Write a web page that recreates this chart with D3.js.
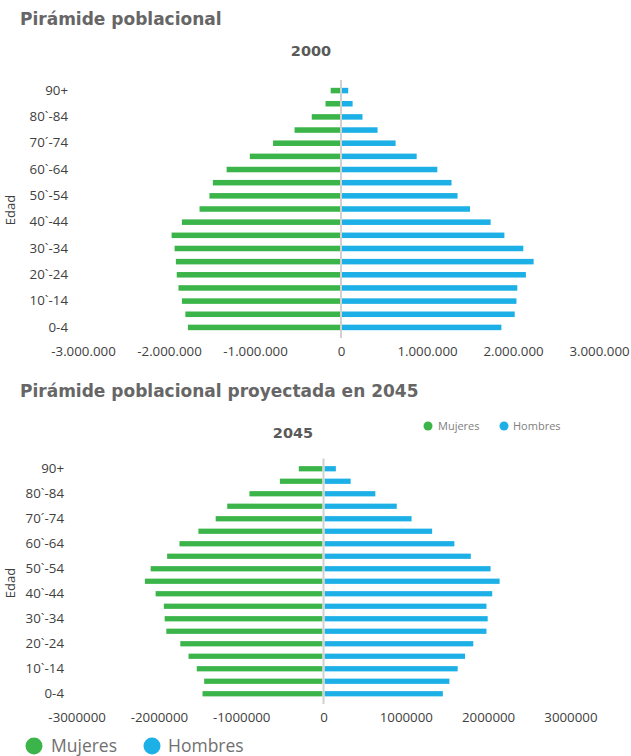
<!DOCTYPE html>
<html><head><meta charset="utf-8">
<script src="https://cdn.jsdelivr.net/npm/d3@7"></script>
<style>
body{margin:0;background:#fff;}
svg{display:block;}
</style></head>
<body>
<script>
const categories = ["0-4","5-9","10`-14","15-19","20`-24","25-29","30`-34","35-39","40`-44","45-49","50`-54","55-59","60`-64","65-69","70´-74","75-79","80`-84","85-89","90+"];
const shownLabels = ["0-4","10`-14","20`-24","30`-34","40`-44","50`-54","60`-64","70´-74","80`-84","90+"];
const mujeres2000 = [-1780000,-1810000,-1850000,-1890000,-1910000,-1920000,-1935000,-1970000,-1850000,-1645000,-1530000,-1490000,-1330000,-1060000,-790000,-540000,-340000,-180000,-120000];
const hombres2000 = [1865000,2020000,2040000,2050000,2150000,2240000,2120000,1900000,1740000,1500000,1355000,1285000,1120000,880000,635000,425000,250000,135000,84000];
const mujeres2045 = [-1470000,-1450000,-1540000,-1640000,-1740000,-1910000,-1930000,-1940000,-2040000,-2170000,-2100000,-1900000,-1750000,-1520000,-1310000,-1170000,-900000,-530000,-300000];
const hombres2045 = [1450000,1530000,1630000,1720000,1820000,1980000,1995000,1980000,2050000,2140000,2030000,1790000,1590000,1320000,1070000,890000,630000,330000,150000];
const ticks = [-3000000,-2000000,-1000000,0,1000000,2000000,3000000];
const seriesNames = ["Mujeres","Hombres"];
const colors = ["#3bb54a","#1cb0e6"];

const W = 631, H = 756;
const svg = d3.select("body").append("svg").attr("width", W).attr("height", H);
const titleFont = "'DejaVu Sans', sans-serif";
const labelFont = "'Open Sans', 'Noto Sans', sans-serif";
const legendFont = "'Open Sans', 'Noto Sans', sans-serif";

function pyramid(cfg){
  const x = d3.scaleLinear().domain([-3000000,3000000]).range([cfg.x0, cfg.x1]);
  const y = d3.scaleBand().domain(categories).range([cfg.yBottom, cfg.yTop]).paddingInner(0.58).paddingOuter(0.29);
  const g = svg.append("g");
  g.selectAll("rect.m").data(cfg.women).join("rect")
    .attr("x", d => x(d)).attr("width", d => x(0) - x(d) - 1)
    .attr("y", (d,i) => y(categories[i])).attr("height", y.bandwidth())
    .attr("fill", colors[0]);
  g.selectAll("rect.h").data(cfg.men).join("rect")
    .attr("x", x(0) + 1).attr("width", d => x(d) - x(0) - 1)
    .attr("y", (d,i) => y(categories[i])).attr("height", y.bandwidth())
    .attr("fill", colors[1]);
  g.append("line").attr("x1", x(0)).attr("x2", x(0))
    .attr("y1", cfg.yTop - 4).attr("y2", cfg.yBottom + 4)
    .attr("stroke", "#d0d0d0").attr("stroke-width", 2);
  const yAxis = d3.axisLeft(y).tickSize(0).tickPadding(0)
    .tickFormat(d => shownLabels.includes(d) ? d : "");
  const ya = g.append("g").attr("transform", `translate(${cfg.yLabelX},0)`).call(yAxis);
  ya.select(".domain").remove();
  ya.selectAll("text").attr("font-family", labelFont).attr("font-size", 13.3).attr("fill", "#404040");
  const xAxis = d3.axisBottom(x).tickValues(ticks).tickSize(0).tickPadding(0).tickFormat(cfg.fmt);
  const xa = g.append("g").attr("transform", `translate(0,${cfg.xLabelY})`).call(xAxis);
  xa.select(".domain").remove();
  xa.selectAll("text").attr("font-family", labelFont).attr("font-size", 13.3).attr("fill", "#404040");
  g.append("text").attr("transform", `translate(15,${cfg.edadY}) rotate(-90)`)
    .attr("text-anchor", "middle").attr("font-family", labelFont).attr("font-size", 13)
    .attr("fill", "#404040").text("Edad");
  g.append("text").attr("x", cfg.subX).attr("y", cfg.subY).attr("text-anchor", "middle")
    .attr("font-family", titleFont).attr("font-weight", 700).attr("font-size", 14.5)
    .attr("fill", "#595959").text(cfg.sub);
  g.append("text").attr("x", 20).attr("y", cfg.titleY)
    .attr("font-family", titleFont).attr("font-weight", 700).attr("font-size", 17)
    .attr("fill", "#666666").text(cfg.title);
}

const dotFmt = d => d3.format(",")(d).replace(/,/g, ".").replace("−","-");
pyramid({title:"Pirámide poblacional", titleY:25, sub:"2000", subX:311, subY:56,
  x0:341-3*86, x1:341+3*86, yTop:84, yBottom:334, women:mujeres2000, men:hombres2000,
  yLabelX:68, xLabelY:347, fmt:dotFmt, edadY:210});
pyramid({title:"Pirámide poblacional proyectada en 2045", titleY:397, sub:"2045", subX:293, subY:438,
  x0:323.5-3*82.3, x1:323.5+3*82.3, yTop:462.5, yBottom:700, women:mujeres2045, men:hombres2045,
  yLabelX:64, xLabelY:713, fmt:d => String(d).replace("−","-"), edadY:583});

const sl = svg.append("g");
[[428,438],[504,513]].forEach((p,i) => {
  sl.append("circle").attr("cx", p[0]).attr("cy", 426).attr("r", 4.5).attr("fill", colors[i]);
  sl.append("text").attr("x", p[1]).attr("y", 430).attr("font-family", legendFont)
    .attr("font-size", 11).attr("fill", "#808080").text(seriesNames[i]);
});
const bl = svg.append("g");
[[34,51],[152,168]].forEach((p,i) => {
  bl.append("circle").attr("cx", p[0]).attr("cy", 746).attr("r", 8.5).attr("fill", colors[i]);
  bl.append("text").attr("x", p[1]).attr("y", 752).attr("font-family", legendFont)
    .attr("font-size", 17.5).attr("fill", "#707070").text(seriesNames[i]);
});
</script>
</body></html>
